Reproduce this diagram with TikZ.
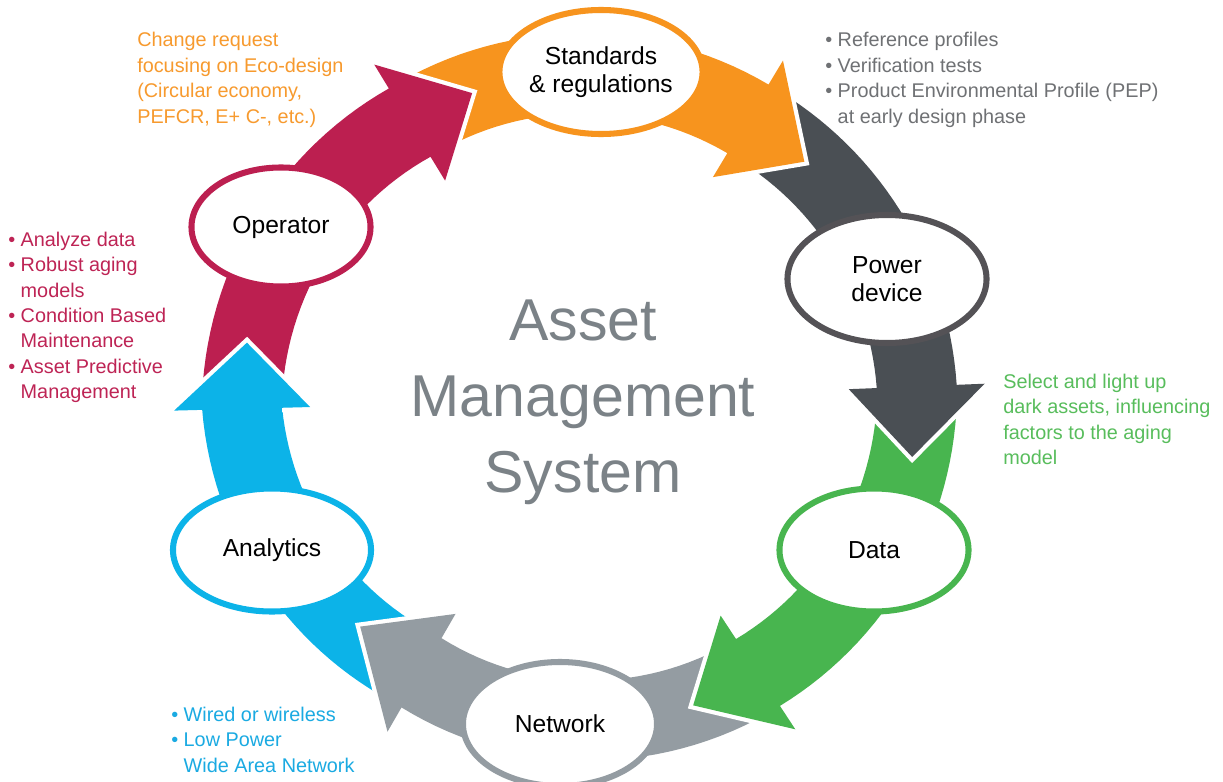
\documentclass[tikz,border=0pt]{standalone}
\usepackage{fontspec}
\setmainfont{Liberation Sans}
\usetikzlibrary{shapes.geometric}

\definecolor{orangeA}{HTML}{F7941E}
\definecolor{darkA}{HTML}{4A4F54}
\definecolor{darkE}{HTML}{545256}
\definecolor{greenA}{HTML}{48B54F}
\definecolor{grayA}{HTML}{949CA2}
\definecolor{cyanA}{HTML}{0CB3E8}
\definecolor{crimsonA}{HTML}{BC1F50}
\definecolor{centregray}{HTML}{7B8287}
\definecolor{orangeT}{HTML}{F79A2E}
\definecolor{grayT}{HTML}{6F7174}
\definecolor{greenT}{HTML}{58BD5C}
\definecolor{cyanT}{HTML}{1AAAE2}
\definecolor{crimsonT}{HTML}{BE2455}

\tikzset{
    stage/.style={ellipse, draw=#1, line width=4.3pt, fill=white, inner sep=0pt,
        minimum width=4.85cm, minimum height=3.1cm, align=center,
        font=\fontsize{17.5}{20}\selectfont},
    note/.style={anchor=north west, inner sep=0pt, align=left,
        font=\fontsize{14.1}{18.1}\selectfont, text=#1},
}

\begin{document}
\begin{tikzpicture}[x=0.025cm, y=-0.025cm]
        % Canvas
        \fill[white] (0,0) rectangle (1223,782);
        \useasboundingbox (0,0) rectangle (1223,782);

        % Arrows, around the centre of the cycle
        \begin{scope}[shift={(579,400)}]
            \foreach \col/\ta/\tb/\tc/\ra/\rb in {cyanA/122/178.5/189.8/315/337,
                    grayA/58.7/120/134/326/315, greenA/-0.3/56.7/69.5/338/326,
                    darkA/-57/-2.3/9.7/328/338, orangeA/-119.4/-59/-46.6/325/328,
                    crimsonA/-179.5/-121.4/-109.2/337/325}
                \fill[\col, preaction={draw=white, line width=6pt}]
                    plot[domain=\ta:\tb, samples=30] (\x:{\ra+(\rb-(\ra))*(\x-(\ta))/(\tb-(\ta))+40})
                    -- (\tb:{\rb+68}) -- (\tc:\rb) -- (\tb:{\rb-68})
                    -- plot[domain=\tb:\ta, samples=30] (\x:{\ra+(\rb-(\ra))*(\x-(\ta))/(\tb-(\ta))-40})
                    -- cycle;
            % Cyan head again, over the red tail
            \draw[white, line width=6pt] (178.5:377) -- (178.5:405) -- (189.8:337) -- (178.5:269) -- (178.5:297);
            \fill[cyanA] (178.5:377) -- (178.5:405) -- (189.8:337) -- (178.5:269) -- (178.5:297) -- cycle;
        \end{scope}

        % Stages
        \node[stage=orangeA, minimum width=4.825cm] (standards) at (601,72) {Standards\\\& regulations};
        \node[stage=darkE, minimum width=4.975cm, minimum height=3.2cm] (power) at (887,279) {Power\\device};
        \node[stage=greenA, minimum width=4.725cm, minimum height=3.075cm] (data) at (874,550) {Data};
        \node[stage=grayA] (network) at (560,724) {Network};
        \node[stage=cyanA, minimum width=4.95cm, minimum height=3.075cm] (analytics) at (272,550) {Analytics};
        \node[stage=crimsonA, minimum width=4.475cm, minimum height=2.975cm] (operator) at (281,227) {Operator};

        % Centre
        \node[anchor=north, inner sep=0pt, align=center, text=centregray,
            font=\fontsize{42}{54}\selectfont] (ams) at (583,300) {Asset\\Management\\System};

        % Notes
        \node[note=orangeT] (changenote) at (137,32)
            {Change request\\focusing on Eco-design\\(Circular economy,\\PEFCR, E+ C-, etc.)};
        \node[note=grayT] (profilenote) at (825,32)
            {• Reference profiles\\• Verification tests\\• Product Environmental Profile (PEP)\\\phantom{• }at early design phase};
        \node[note=crimsonT] (analyzenote) at (8,231.5)
            {• Analyze data\\• Robust aging\\\phantom{• }models\\• Condition Based\\\phantom{• }Maintenance\\• Asset Predictive\\\phantom{• }Management};
        \node[note=greenT] (selectnote) at (1003,373.5)
            {Select and light up\\dark assets, influencing\\factors to the aging\\model};
        \node[note=cyanT] (wirednote) at (171,706.5)
            {• Wired or wireless\\• Low Power\\\phantom{• }Wide Area Network};
\end{tikzpicture}
\end{document}
